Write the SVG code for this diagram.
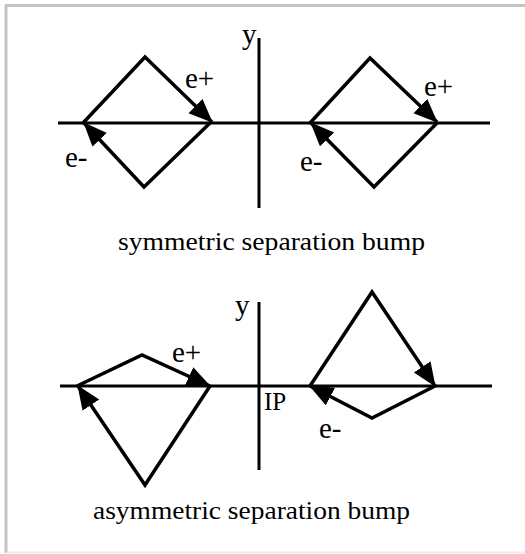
<svg xmlns="http://www.w3.org/2000/svg" width="525" height="554" viewBox="0 0 525 554">
<defs>
<style>
.axis{stroke:#000;stroke-width:3;fill:none}
.path{stroke:#000;stroke-width:3.5;fill:none;stroke-linejoin:miter;marker-end:url(#arr)}
.lbl{font-family:"Liberation Serif","Times New Roman",serif;font-size:29px;fill:#000}
.cap{font-family:"Liberation Serif","Times New Roman",serif;font-size:25px;fill:#000}
</style>
<marker id="arr" markerUnits="userSpaceOnUse" markerWidth="28" markerHeight="22" refX="23" refY="10" orient="auto" viewBox="0 0 28 22">
<path d="M0,0 L24,10 L0,20 z" fill="#000"/>
</marker>
</defs>
<rect x="0" y="0" width="525" height="554" fill="#fff"/>
<g id="frame">
<line x1="5" y1="5.5" x2="525" y2="5.5" stroke="#c4c4c4" stroke-width="3"/>
<line x1="6" y1="5" x2="6" y2="553" stroke="#c4c4c4" stroke-width="3"/>
<line x1="6" y1="552.5" x2="525" y2="552.5" stroke="#ececec" stroke-width="2"/>
</g>
<g id="axes">
<line class="axis" x1="58" y1="123" x2="490" y2="123"/>
<line class="axis" x1="259" y1="38" x2="259" y2="208"/>
<line class="axis" x1="60" y1="386" x2="492" y2="386"/>
<line class="axis" x1="259" y1="302" x2="259" y2="470"/>
</g>
<g id="connectors">
<path class="path" d="M83,123 L145,57 L212,122"/>
<path class="path" d="M210,123 L144,187 L84,123"/>
<path class="path" d="M310,123 L370,58 L437,122"/>
<path class="path" d="M437,123 L374,187 L311,123"/>
<path class="path" d="M77,386 L142,355 L210,386"/>
<path class="path" d="M210,386 L145,485 L78,386"/>
<path class="path" d="M310,386 L372,292 L435,386"/>
<path class="path" d="M435,386 L372,418 L310,386"/>
</g>
<g id="labels">
<text class="lbl" x="242" y="44">y</text>
<text class="lbl" x="185" y="88">e+</text>
<text class="lbl" x="65" y="167">e-</text>
<text class="lbl" x="424" y="96">e+</text>
<text class="lbl" x="300" y="171">e-</text>
<text class="cap" x="118" y="250" textLength="307" lengthAdjust="spacingAndGlyphs">symmetric separation bump</text>
<text class="lbl" x="235" y="315">y</text>
<text class="lbl" x="172" y="362">e+</text>
<text class="lbl" x="264" y="410" style="font-size:25px">IP</text>
<text class="lbl" x="319" y="438">e-</text>
<text class="cap" x="93" y="519" textLength="317" lengthAdjust="spacingAndGlyphs">asymmetric separation bump</text>
</g>
</svg>
